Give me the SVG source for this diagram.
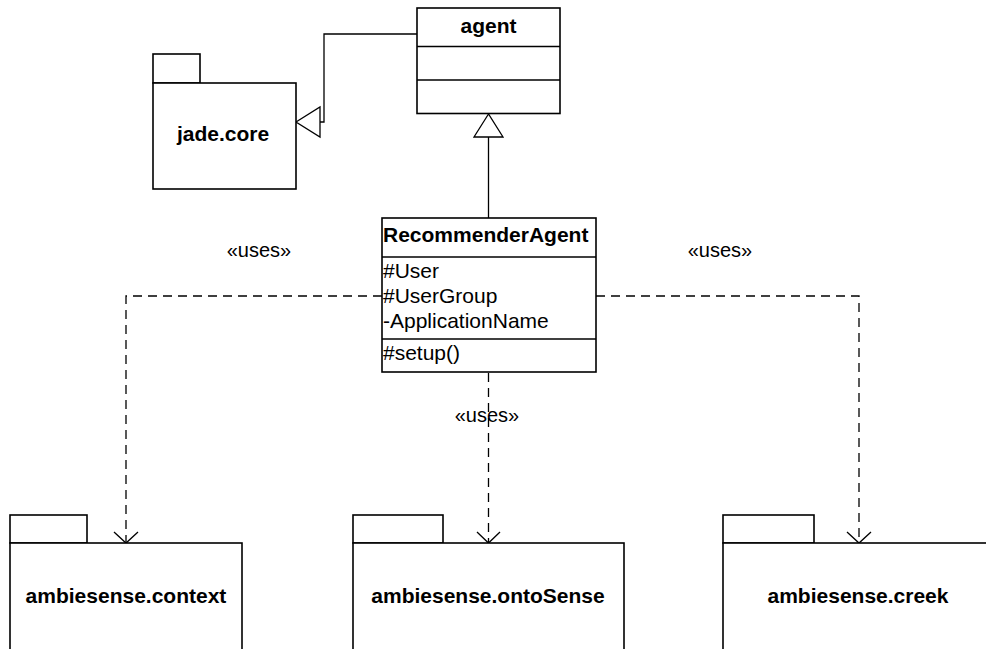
<svg xmlns="http://www.w3.org/2000/svg" width="986" height="649" viewBox="0 0 986 649">
<style>
.box{fill:#fff;stroke:#000;stroke-width:1.6}
.ln{fill:none;stroke:#000;stroke-width:1.3}
.dash{fill:none;stroke:#000;stroke-width:1.3;stroke-dasharray:9 6}
.head{fill:none;stroke:#000;stroke-width:1.3}
.tri{fill:#fff;stroke:#000;stroke-width:1.3}
text{font-family:"Liberation Sans",Arial,sans-serif;font-size:21px;fill:#000}
.b{font-weight:bold}
.c{text-anchor:middle}
.lbl{font-size:20px}
</style>
<rect width="986" height="649" fill="#fff"/>
<g id="connectors">
  <!-- agent -> jade.core generalization -->
  <polyline class="ln" points="417,34 324,34 324,122 320,122"/>
  <polygon class="tri" points="296,122 320,107 320,137"/>
  <!-- RecommenderAgent -> agent generalization -->
  <line class="ln" x1="488.5" y1="137" x2="488.5" y2="218"/>
  <polygon class="tri" points="488.5,114 474,137 503,137"/>
  <!-- uses left -->
  <polyline class="dash" points="382,296 126,296 126,543"/>
  <polyline class="head" points="114,532 126,543 138,532"/>
  <text class="lbl" x="259" y="257" text-anchor="middle">«uses»</text>
  <!-- uses middle -->
  <line class="dash" x1="488.5" y1="373" x2="488.5" y2="543"/>
  <polyline class="head" points="477,532 488.5,543 500,532"/>
  <text class="lbl" x="487" y="422" text-anchor="middle">«uses»</text>
  <!-- uses right -->
  <polyline class="dash" points="596,296 859,296 859,543"/>
  <polyline class="head" points="847,532 859,543 871,532"/>
  <text class="lbl" x="720" y="257" text-anchor="middle">«uses»</text>
</g>
<g id="agent">
  <rect class="box" x="417" y="8" width="143" height="105.5"/>
  <line class="ln" x1="417" y1="46.5" x2="560" y2="46.5"/>
  <line class="ln" x1="417" y1="80" x2="560" y2="80"/>
  <text class="b c" x="488.5" y="33">agent</text>
</g>
<g id="jade.core">
  <rect class="box" x="153" y="54" width="47" height="29"/>
  <rect class="box" x="153" y="83" width="143" height="106"/>
  <text class="b c" x="223" y="141">jade.core</text>
</g>
<g id="RecommenderAgent">
  <rect class="box" x="382" y="218" width="214" height="154"/>
  <line class="ln" x1="382" y1="257" x2="596" y2="257"/>
  <line class="ln" x1="382" y1="339" x2="596" y2="339"/>
  <text class="b" x="383" y="242">RecommenderAgent</text>
  <text x="383" y="278">#User</text>
  <text x="383" y="303">#UserGroup</text>
  <text x="383" y="328">-ApplicationName</text>
  <text x="383" y="360">#setup()</text>
</g>
<g id="ambiesense.context">
  <rect class="box" x="10" y="515" width="77" height="28"/>
  <rect class="box" x="10" y="543" width="232" height="120"/>
  <text class="b c" x="126" y="603">ambiesense.context</text>
</g>
<g id="ambiesense.ontoSense">
  <rect class="box" x="353" y="515" width="90" height="28"/>
  <rect class="box" x="353" y="543" width="271" height="120"/>
  <text class="b c" x="488" y="603">ambiesense.ontoSense</text>
</g>
<g id="ambiesense.creek">
  <rect class="box" x="723" y="515" width="91" height="28"/>
  <rect class="box" x="723" y="543" width="280" height="120"/>
  <text class="b c" x="858" y="603">ambiesense.creek</text>
</g>
</svg>
